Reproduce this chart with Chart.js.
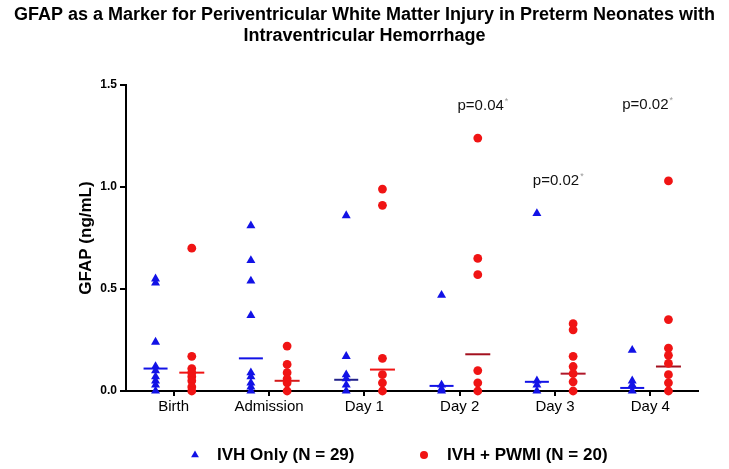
<!DOCTYPE html>
<html>
<head>
<meta charset="utf-8">
<script src="https://cdn.jsdelivr.net/npm/chart.js@4.4.1/dist/chart.umd.min.js"></script>
<style>
html,body{margin:0;padding:0;background:#ffffff;}
#wrap{width:729px;height:469px;}
</style>
</head>
<body>
<div id="wrap"><canvas id="c" width="729" height="469"></canvas></div>
<script>
// ---------------- DATA ----------------
const categories = ['Birth', 'Admission', 'Day 1', 'Day 2', 'Day 3', 'Day 4'];
const seriesNames = ['IVH Only (N = 29)', 'IVH + PWMI (N = 20)'];

// GFAP (ng/mL) values per category
const ivhOnlyValues = [
  [0.55, 0.53, 0.24, 0.12, 0.10, 0.07, 0.05, 0.03, 0.0],
  [0.81, 0.64, 0.54, 0.37, 0.09, 0.07, 0.04, 0.02, 0.0],
  [0.86, 0.17, 0.08, 0.06, 0.03, 0.0],
  [0.47, 0.03, 0.01, 0.0],
  [0.87, 0.05, 0.03, 0.0],
  [0.20, 0.05, 0.03, 0.0]
];
const ivhPwmiValues = [
  [0.70, 0.17, 0.11, 0.09, 0.07, 0.05, 0.02, 0.0],
  [0.22, 0.13, 0.09, 0.06, 0.04, 0.0],
  [0.99, 0.91, 0.16, 0.08, 0.04, 0.0],
  [1.24, 0.65, 0.57, 0.10, 0.04, 0.0],
  [0.33, 0.30, 0.17, 0.12, 0.085, 0.045, 0.0],
  [1.03, 0.35, 0.21, 0.175, 0.135, 0.08, 0.04, 0.0]
];
const ivhOnlyMedians = [0.11, 0.16, 0.055, 0.025, 0.045, 0.015];
const ivhPwmiMedians = [0.09, 0.05, 0.105, 0.18, 0.085, 0.12];
const pValueTexts = ['', '', '', 'p=0.04*', 'p=0.02*', 'p=0.02*'];
const yTickValues = [0, 0.5, 1.0, 1.5];
const titleLines = [
  'GFAP as a Marker for Periventricular White Matter Injury in Preterm Neonates with',
  'Intraventricular Hemorrhage'
];
const yAxisTitle = 'GFAP (ng/mL)';

// ---------------- STYLE ----------------
const BLUE = '#1212e6';
const RED = '#f01414';
const GROUP_SHIFT = 0.19;
const FONT = '"Liberation Sans", Arial, Helvetica, sans-serif';
const TITLE_FONT = '"Liberation Sans Narrow", "Arial Narrow", "Liberation Sans", Arial, sans-serif';

function toPoints(groups, shift) {
  const out = [];
  groups.forEach((g, i) => g.forEach(v => out.push({x: i + shift, y: v})));
  return out;
}
function toMedianPoints(meds, shift) {
  return meds.map((v, i) => ({x: i + shift, y: v}));
}

Chart.defaults.font.family = FONT;
Chart.defaults.color = '#000';

const pValuePlugin = {
  id: 'pValues',
  afterDatasetsDraw(chart, args, opts) {
    const {ctx, scales: {x, y}} = chart;
    ctx.save();
    pValueTexts.forEach((t, i) => {
      if (!t) return;
      const main = t.replace('*', '');
      const px = x.getPixelForValue(i) + opts.dx[i];
      const py = y.getPixelForValue(opts.y[i]);
      ctx.font = '15px ' + FONT;
      ctx.fillStyle = '#111';
      ctx.textAlign = 'left';
      ctx.textBaseline = 'middle';
      const w = ctx.measureText(main).width;
      const left = px - w / 2;
      ctx.fillText(main, left, py);
      ctx.font = '9px ' + FONT;
      ctx.fillStyle = '#999';
      ctx.fillText('*', left + w + 1, py - 4);
    });
    ctx.restore();
  }
};

const legendPlugin = {
  id: 'customLegend',
  afterDraw(chart, args, opts) {
    const {ctx} = chart;
    ctx.save();
    opts.items.forEach((it, k) => {
      ctx.fillStyle = it.color;
      ctx.beginPath();
      if (it.marker === 'triangle') {
        const r = 4.5;
        for (let j = 0; j < 3; j++) {
          const a = j * 2 * Math.PI / 3;
          const xx = it.mx + Math.sin(a) * r, yy = it.my - Math.cos(a) * r;
          if (j === 0) ctx.moveTo(xx, yy); else ctx.lineTo(xx, yy);
        }
        ctx.closePath();
      } else {
        ctx.arc(it.mx, it.my, 4, 0, Math.PI * 2);
      }
      ctx.fill();
      ctx.font = 'bold 17px ' + FONT;
      ctx.fillStyle = '#000';
      ctx.textAlign = 'left';
      ctx.textBaseline = 'middle';
      ctx.fillText(seriesNames[k], it.tx, it.my);
    });
    ctx.restore();
  }
};

new Chart(document.getElementById('c'), {
  type: 'scatter',
  data: {
    datasets: [
      {
        label: seriesNames[0],
        data: toPoints(ivhOnlyValues, -GROUP_SHIFT),
        pointStyle: 'triangle',
        pointRadius: 5.2,
        backgroundColor: BLUE,
        borderColor: BLUE,
        borderWidth: 0,
        clip: false
      },
      {
        label: seriesNames[1],
        data: toPoints(ivhPwmiValues, GROUP_SHIFT),
        pointStyle: 'circle',
        pointRadius: 4.4,
        backgroundColor: RED,
        borderColor: RED,
        borderWidth: 0,
        clip: false
      },
      {
        label: seriesNames[0] + ' median',
        data: toMedianPoints(ivhOnlyMedians, -GROUP_SHIFT),
        pointStyle: 'line',
        pointRadius: 12,
        pointBorderWidth: 2,
        pointBorderColor: [BLUE, BLUE, '#22228a', BLUE, BLUE, BLUE],
        clip: false
      },
      {
        label: seriesNames[1] + ' median',
        data: toMedianPoints(ivhPwmiMedians, GROUP_SHIFT),
        pointStyle: 'line',
        pointRadius: 12.5,
        pointBorderWidth: 2,
        pointBorderColor: [RED, '#d41a1a', RED, '#a3101e', '#b0182a', '#a3101e'],
        clip: false
      }
    ]
  },
  options: {
    responsive: false,
    animation: false,
    events: [],
    layout: {padding: {left: 0, right: 0, top: 0, bottom: 48}},
    plugins: {
      legend: {display: false},
      tooltip: {enabled: false},
      title: {
        display: true,
        text: titleLines,
        color: '#000',
        font: {family: TITLE_FONT, size: 18, weight: 'bold', lineHeight: 1.15},
        padding: {top: 5, bottom: 38.6}
      },
      pValues: {dx: [0, 0, 0, 21, 1, -5], y: [0, 0, 0, 1.397, 1.032, 1.403]},
      customLegend: {
        items: [
          {marker: 'triangle', color: BLUE, mx: 195, my: 455, tx: 217},
          {marker: 'circle', color: RED, mx: 424, my: 455, tx: 447}
        ]
      }
    },
    scales: {
      x: {
        type: 'linear',
        position: 'bottom',
        min: -0.5,
        max: 5.5,
        afterBuildTicks: s => { s.ticks = categories.map((c, i) => ({value: i})); },
        afterFit: s => { s.height = 30; },
        ticks: {
          autoSkip: false,
          maxRotation: 0,
          padding: 2,
          color: '#000',
          font: {size: 15},
          callback: v => categories[v]
        },
        grid: {drawOnChartArea: false, drawTicks: true, tickLength: 5, color: '#000', lineWidth: 2},
        border: {display: true, color: '#000', width: 2}
      },
      y: {
        type: 'linear',
        position: 'left',
        min: 0,
        max: 1.5,
        afterBuildTicks: s => { s.ticks = yTickValues.map(v => ({value: v})); },
        afterFit: s => { s.width = 126; },
        ticks: {
          padding: 3,
          color: '#000',
          font: {size: 12, weight: 'bold'},
          callback: v => Number(v).toFixed(1)
        },
        grid: {drawOnChartArea: false, drawTicks: true, tickLength: 6, color: '#000', lineWidth: 2},
        border: {display: true, color: '#000', width: 2},
        title: {
          display: true,
          text: yAxisTitle,
          color: '#000',
          font: {size: 17, weight: 'bold'},
          padding: {top: 76, bottom: 0}
        }
      },
      yRightSpace: {
        type: 'linear',
        position: 'right',
        display: true,
        min: 0,
        max: 1.5,
        afterFit: s => { s.width = 31; },
        ticks: {display: false},
        grid: {display: false, drawTicks: false},
        border: {display: false}
      }
    }
  },
  plugins: [pValuePlugin, legendPlugin]
});
</script>
</body>
</html>
